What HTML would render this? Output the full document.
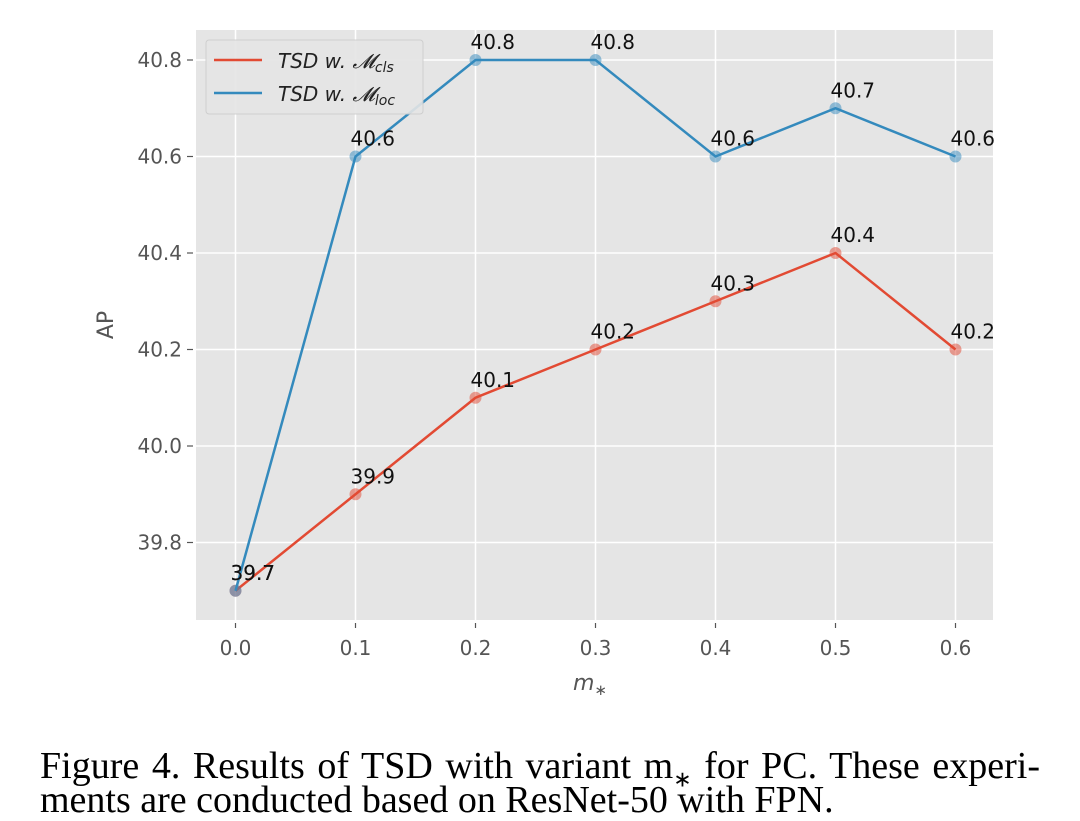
<!DOCTYPE html>
<html><head><meta charset="utf-8"><style>
body{margin:0;background:#fff;width:1080px;height:819px;overflow:hidden}
svg text{font-family:"DejaVu Sans","Liberation Sans",sans-serif}
.cap{position:absolute;left:40px;width:1000px;font-family:"Liberation Serif",serif;font-size:38px;line-height:37px;color:#000;white-space:nowrap}
.l1{top:748px;text-align:justify;text-align-last:justify}
.l2{top:782px}
</style></head><body>
<svg id="chart" width="1080" height="819" style="position:absolute;left:0;top:0">
<rect x="196" y="30" width="797" height="590" fill="#e5e5e5"/>
<g id="grid"></g><g id="axes"></g><g id="series"></g>
<g>
<rect x="206" y="40" width="217" height="74" rx="3" fill="#e5e5e5" stroke="#ccc" opacity="0.9"/>
<line x1="214" y1="60" x2="262" y2="60" stroke="#e24a33" stroke-width="2.5"/>
<text x="278" y="68" font-size="20" font-style="italic" fill="#222">TSD w. 𝓜<tspan font-size="14" dy="4">cls</tspan></text>
<line x1="214" y1="93" x2="262" y2="93" stroke="#348abd" stroke-width="2.5"/>
<text x="278" y="101" font-size="20" font-style="italic" fill="#222">TSD w. 𝓜<tspan font-size="14" dy="4">loc</tspan></text>
</g>
<text transform="translate(113,325) rotate(-90)" text-anchor="middle" font-size="22" fill="#555">AP</text>
<text x="590" y="690" text-anchor="middle" font-size="22" font-style="italic" fill="#555">m<tspan font-size="15" dy="5">∗</tspan></text>
</svg>
<div class="cap l1">Figure 4. Results of TSD with variant m<sub style="font-size:22px">∗</sub> for PC. These experi-</div>
<div class="cap l2">ments are conducted based on ResNet-50 with FPN.</div>
<script>
const categories=[0.0,0.1,0.2,0.3,0.4,0.5,0.6];
const xTicks=["0.0","0.1","0.2","0.3","0.4","0.5","0.6"];
const yTicks=[39.8,40.0,40.2,40.4,40.6,40.8];
const clsValues=[39.7,39.9,40.1,40.2,40.3,40.4,40.2];
const locValues=[39.7,40.6,40.8,40.8,40.6,40.7,40.6];
const NS="http://www.w3.org/2000/svg";
const X=v=>235.5+(v-0)/0.1*120;
const Y=v=>60+(40.8-v)/0.2*96.5;
function mk(t,a,p){const e=document.createElementNS(NS,t);for(const k in a)e.setAttribute(k,a[k]);p.appendChild(e);return e;}
const grid=document.getElementById('grid'),axes=document.getElementById('axes'),ser=document.getElementById('series');
categories.forEach((c,i)=>{
 const g=mk('line',{x1:X(c),x2:X(c),y1:30,y2:620,stroke:'#fff','stroke-width':1.5},grid);
 
 
 mk('line',{x1:X(c),x2:X(c),y1:623,y2:628,stroke:'#555','stroke-width':1.2},axes);
 const t=mk('text',{x:X(c),y:655,'text-anchor':'middle','font-size':20,fill:'#555'},axes);t.textContent=xTicks[i];
 
 
});
yTicks.forEach(v=>{
 const g=mk('line',{x1:196,x2:993,y1:Y(v),y2:Y(v),stroke:'#fff','stroke-width':1.5},grid);
 
 
 mk('line',{x1:187,x2:193,y1:Y(v),y2:Y(v),stroke:'#555','stroke-width':1.2},axes);
 const t=mk('text',{x:182,y:Y(v)+7,'text-anchor':'end','font-size':20,fill:'#555'},axes);t.textContent=v.toFixed(1);
 
 
});
function draw(vals,col,name){
 const p=mk('polyline',{points:vals.map((v,i)=>X(categories[i])+','+Y(v)).join(' '),fill:'none',stroke:col,'stroke-width':2.5},ser);
 
 
 vals.forEach((v,i)=>{
  const c=mk('circle',{cx:X(categories[i]),cy:Y(v),r:6,fill:col,opacity:0.5},ser);
  
  
  const t=mk('text',{x:X(categories[i])-5,y:Y(v)-11,'font-size':20,fill:'#111'},ser);
  t.textContent=v.toFixed(1);
  
  
 });
}
draw(clsValues,'#e24a33','cls-series');
draw(locValues,'#348abd','loc-series');
</script>
</body></html>
